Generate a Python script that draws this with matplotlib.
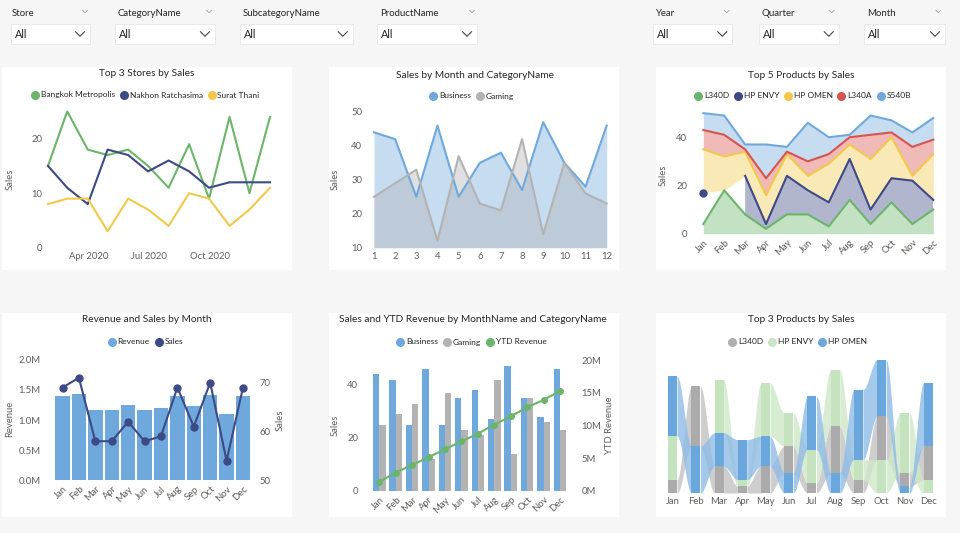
import numpy as np
import pandas as pd
import matplotlib
matplotlib.use("Agg")
import matplotlib.pyplot as plt
from matplotlib.lines import Line2D
from matplotlib.patches import Rectangle
from matplotlib.ticker import FuncFormatter

plt.rcParams["font.family"] = ["Lato", "DejaVu Sans"]

# ---------------------------------------------------------------- data
months = ["Jan", "Feb", "Mar", "Apr", "May", "Jun",
          "Jul", "Aug", "Sep", "Oct", "Nov", "Dec"]

store_names = ["Bangkok Metropolis", "Nakhon Ratchasima", "Surat Thani"]
bangkok = [15, 25, 18, 17, 18, 15, 11, 19, 9, 24, 10, 24]
nakhon = [15, 11, 8, 18, 17, 14, 16, 14, 11, 12, 12, 12]
surat = [8, 9, 9, 3, 9, 7, 4, 10, 9, 4, 7, 11]

categories = ["Business", "Gaming"]
business = [44, 42, 25, 46, 25, 35, 38, 27, 47, 35, 28, 46]
gaming = [25, 29, 33, 12, 37, 23, 21, 42, 14, 35, 26, 23]

products = ["L340D", "HP ENVY", "HP OMEN", "L340A", "S540B"]
l340d = [4, 18, 8, 2, 8, 8, 3, 14, 4, 13, 4, 10]
hp_envy = [13, np.nan, 16, 2, 16, 10, 10, 17, 6, 10, 18, 4]
hp_omen = [18, 14, 10, 12, 9, 6, 16, 6, 21, 17, 2, 19]
l340a = [8, 9, 1, 7, 1, 6, 4, 3, 10, 2, 12, 6]
s540b = [7, 8, 2, 14, 2, 16, 7, 1, 8, 5, 6, 9]

revenue_m = [1.39, 1.43, 1.17, 1.17, 1.25, 1.17, 1.20, 1.39, 1.24, 1.41, 1.10, 1.39]

slicer_labels = ["Store", "CategoryName", "SubcategoryName", "ProductName",
                 "Year", "Quarter", "Month"]

# ---------------------------------------------------------------- style
W, H = 960, 533
BG = "#f6f6f6"
TITLE_C = "#252423"
TICK_C = "#605e5c"
BLUE = "#6fa8dc"
GRAY = "#b3b3b3"
GREEN = "#6bb56a"
NAVY = "#3d4a85"
YELLOW = "#f2c94c"
RED = "#d9534f"
TICK_FS = 6.8

fig = plt.figure(figsize=(W / 100, H / 100), dpi=100, facecolor=BG)


def fx(x):
    return x / W


def fy(y):
    return 1 - y / H


def px_axes(x0, y0, x1, y1):
    ax = fig.add_axes([fx(x0), fy(y1), (x1 - x0) / W, (y1 - y0) / H])
    ax.patch.set_visible(False)
    for s in ax.spines.values():
        s.set_visible(False)
    ax.tick_params(length=0, labelsize=TICK_FS, labelcolor=TICK_C)
    return ax


def panel(x0, y0, x1, y1):
    fig.add_artist(Rectangle((fx(x0), fy(y1)), (x1 - x0) / W, (y1 - y0) / H,
                             transform=fig.transFigure, facecolor="white",
                             edgecolor="none", zorder=0))


def chevron(cx, cy, w, h, color, lw):
    xs = [cx - w / 2, cx, cx + w / 2]
    ys = [cy - h / 2, cy + h / 2, cy - h / 2]
    fig.add_artist(Line2D([fx(v) for v in xs], [fy(v) for v in ys],
                          transform=fig.transFigure, color=color, lw=lw))


def title(x, y, txt):
    fig.text(fx(x), fy(y), txt, ha="center", va="center", fontsize=7.25, color=TITLE_C)


def legend(x, y, labels, colors):
    handles = [Line2D([], [], marker="o", linestyle="", color=c, markersize=5.5)
               for c in colors]
    fig.legend(handles, labels, loc="center", bbox_to_anchor=(fx(x), fy(y)),
               ncol=len(labels), frameon=False, fontsize=6.0, handletextpad=0.35,
               columnspacing=0.7, handlelength=0.7, borderpad=0,
               labelcolor=TITLE_C)


def axis_label(x, y, txt, rot=90):
    fig.text(fx(x), fy(y), txt, ha="center", va="center", rotation=rot,
             fontsize=TICK_FS, color=TICK_C)


# ---------------------------------------------------------------- slicers
slicer_pos = [(12, 10.7, 90, 85), (117, 114.7, 215, 209), (243, 240, 352.7, None),
              (380, 377, 477, 472), (655, 653.3, 732.3, 726.7),
              (761, 758.7, 838.7, 831.7), (867, 864, 945, 938.3)]
for lab, (lx, bx0, bx1, hx) in zip(slicer_labels, slicer_pos):
    fig.text(fx(lx), fy(13), lab, ha="left", va="center", fontsize=6.9, color=TITLE_C)
    if hx is not None:
        chevron(hx, 11.5, 5, 2.5, "#a0a0a0", 0.6)
    fig.add_artist(Rectangle((fx(bx0), fy(44)), (bx1 - bx0) / W, 20.5 / H,
                             transform=fig.transFigure, facecolor="white",
                             edgecolor="#e8e8e8", lw=0.6))
    fig.text(fx(bx0 + 4), fy(35), "All", ha="left", va="center", fontsize=7.8,
             color=TITLE_C)
    chevron(bx1 - 10, 34, 9, 4.5, "#444444", 0.8)

# ---------------------------------------------------------------- panels
cols = [(2, 292), (329, 619), (656, 946)]
rows = [(67, 270), (313, 517)]
for (r0, r1) in rows:
    for (c0, c1) in cols:
        panel(c0, r0, c1, r1)

x = np.arange(12)

# ---- 1: Top 3 Stores by Sales
title(147, 74, "Top 3 Stores by Sales")
legend(146, 95, store_names, [GREEN, NAVY, YELLOW])
ax1 = px_axes(48, 100, 270, 247.7)
dates = pd.date_range("2020-01-01", periods=12, freq="MS") + pd.offsets.MonthEnd(0)
for vals, c in zip([bangkok, nakhon, surat], [GREEN, NAVY, YELLOW]):
    ax1.plot(dates, vals, color=c, lw=1.5, clip_on=False)
ax1.set_xlim(dates[0], dates[-1])
ax1.set_ylim(0, 27.1)
ax1.set_yticks([0, 10, 20])
ax1.set_xticks(pd.to_datetime(["2020-04-01", "2020-07-01", "2020-10-01"]))
ax1.set_xticklabels(["Apr 2020", "Jul 2020", "Oct 2020"])
ax1.tick_params(axis="y", pad=4)
ax1.tick_params(axis="x", pad=3)
axis_label(10, 179, "Sales")

# ---- 2: Sales by Month and CategoryName
title(475, 75, "Sales by Month and CategoryName")
legend(472, 96, categories, [BLUE, GRAY])
ax2 = px_axes(374, 112, 606.7, 247.7)
m = x + 1
ax2.fill_between(m, business, 10, color=BLUE, alpha=0.4, lw=0)
ax2.fill_between(m, gaming, 10, color=GRAY, alpha=0.4, lw=0)
ax2.plot(m, business, color=BLUE, lw=1.5, clip_on=False)
ax2.plot(m, gaming, color=GRAY, lw=1.5, clip_on=False)
ax2.set_xlim(1, 12)
ax2.set_ylim(10, 50)
ax2.set_xticks(m)
ax2.set_yticks([10, 20, 30, 40, 50])
ax2.tick_params(axis="y", pad=8.5)
ax2.tick_params(axis="x", pad=3)
axis_label(335, 179, "Sales")

# ---- 3: Top 5 Products by Sales (stacked area)
title(801, 75, "Top 5 Products by Sales")
prod_colors = [GREEN, NAVY, YELLOW, RED, BLUE]
legend(803, 96, products, prod_colors)
ax3 = px_axes(703.3, 110, 933.3, 233.7)
base = np.zeros(12)
for vals, c in zip([l340d, hp_envy, hp_omen, l340a, s540b], prod_colors):
    v = np.array(vals, dtype=float)
    top = base + v
    ax3.fill_between(x, base, top, color=c, alpha=0.4, lw=0)
    ax3.plot(x, top, color=c, lw=1.5, clip_on=False)
    ok = ~np.isnan(v)
    for i in range(12):
        left = i > 0 and ok[i - 1]
        right = i < 11 and ok[i + 1]
        if ok[i] and not left and not right:
            ax3.plot(x[i], top[i], "o", color=c, ms=5, clip_on=False)
    base = base + np.nan_to_num(v)
ax3.set_xlim(0, 11)
ax3.set_ylim(0, 51.3)
ax3.set_yticks([0, 20, 40])
ax3.set_xticks(x)
ax3.set_xticklabels(months, rotation=45, ha="right", rotation_mode="anchor")
ax3.tick_params(axis="y", pad=11.5)
ax3.tick_params(axis="x", pad=3)
axis_label(663, 175, "Sales")

# ---- 4: Revenue and Sales by Month
title(147, 320, "Revenue and Sales by Month")
legend(146, 342, ["Revenue", "Sales"], [BLUE, NAVY])
ax4 = px_axes(54.3, 359.7, 251.2, 480.3)
rev = np.array(revenue_m) * 1e6
ax4.bar(x, rev, width=0.88, color=BLUE)
ax4.set_xlim(-0.5, 11.5)
ax4.set_ylim(0, 2.0e6)
ax4.set_yticks([0, 0.5e6, 1.0e6, 1.5e6, 2.0e6])
ax4.yaxis.set_major_formatter(FuncFormatter(lambda v, p: f"{v / 1e6:.1f}M"))
ax4.set_xticks(x)
ax4.set_xticklabels(months, rotation=45, ha="right", rotation_mode="anchor")
ax4.tick_params(axis="y", pad=9.8)
ax4.tick_params(axis="x", pad=3)
ax4r = ax4.twinx()
ax4r.patch.set_visible(False)
for s in ax4r.spines.values():
    s.set_visible(False)
sales_total = np.array(business) + np.array(gaming)
ax4r.plot(x, sales_total, color=NAVY, lw=1.5, marker="o", ms=5)
ax4r.set_ylim(50, 74.7)
ax4r.set_yticks([50, 60, 70])
ax4r.tick_params(length=0, labelsize=TICK_FS, labelcolor=TICK_C, pad=5.8)
axis_label(10, 419, "Revenue")
axis_label(280, 420, "Sales")

# ---- 5: Sales and YTD Revenue by MonthName and CategoryName
title(473, 320, "Sales and YTD Revenue by MonthName and CategoryName")
legend(472, 342, categories + ["YTD Revenue"], [BLUE, GRAY, GREEN])
ax5 = px_axes(371.1, 360.3, 568.2, 491)
bw = 0.38
ax5.bar(x - bw / 2, business, width=bw, color=BLUE)
ax5.bar(x + bw / 2, gaming, width=bw, color=GRAY)
ax5.set_xlim(-0.5, 11.5)
ax5.set_ylim(0, 49.3)
ax5.set_yticks([0, 20, 40])
ax5.set_xticks(x)
ax5.set_xticklabels(months, rotation=45, ha="right", rotation_mode="anchor")
ax5.tick_params(axis="y", pad=9.4)
ax5.tick_params(axis="x", pad=3)
ax5r = ax5.twinx()
ax5r.patch.set_visible(False)
for s in ax5r.spines.values():
    s.set_visible(False)
ytd = np.cumsum(rev)
ax5r.plot(x, ytd, color=GREEN, lw=1.5, marker="o", ms=4)
ax5r.set_ylim(0, 20e6)
ax5r.set_yticks([0, 5e6, 10e6, 15e6, 20e6])
ax5r.yaxis.set_major_formatter(FuncFormatter(lambda v, p: f"{v / 1e6:.0f}M"))
ax5r.tick_params(length=0, labelsize=TICK_FS, labelcolor=TICK_C, pad=9.7)
axis_label(335, 425, "Sales")
axis_label(610, 425, "YTD Revenue")

# ---- 6: Top 3 Products by Sales (ribbon)
title(801, 320, "Top 3 Products by Sales")
rib_names = products[:3]
rib_vals = np.nan_to_num(np.array([l340d, hp_envy, hp_omen], dtype=float))
col_colors = ["#ababab", "#c5e3bf", "#6aa7dc"]
band_colors = ["#c2c2c2", "#cfe8c9", "#8fbce6"]
legend(798, 342, rib_names, ["#b0b0b0", "#c9e6c4", "#6aa7dc"])
ax6 = px_axes(661, 350, 939.7, 493)
cw = 0.39
bot = np.zeros_like(rib_vals)
for i in range(12):
    order = np.argsort(rib_vals[:, i], kind="stable")
    acc = 0.0
    for s in order:
        bot[s, i] = acc
        acc += rib_vals[s, i]
t = np.linspace(0, 1, 50)
sm = 3 * t ** 2 - 2 * t ** 3
for s in range(3):
    for i in range(11):
        if rib_vals[s, i] > 0 and rib_vals[s, i + 1] > 0:
            xx = i + cw / 2 + t * (1 - cw)
            lo = bot[s, i] + (bot[s, i + 1] - bot[s, i]) * sm
            hi = lo + rib_vals[s, i] + (rib_vals[s, i + 1] - rib_vals[s, i]) * sm
            ax6.fill_between(xx, lo, hi, color=band_colors[s], alpha=0.8, lw=0)
for s in range(3):
    ax6.bar(x, rib_vals[s], bottom=bot[s], width=cw, color=col_colors[s], lw=0)
ax6.set_xlim(-0.5, 11.5)
ax6.set_ylim(0, 42.9)
ax6.set_yticks([])
ax6.set_xticks(x)
ax6.set_xticklabels(months)
ax6.tick_params(axis="x", pad=3)

fig.savefig("out.png", dpi=100, facecolor=BG)
